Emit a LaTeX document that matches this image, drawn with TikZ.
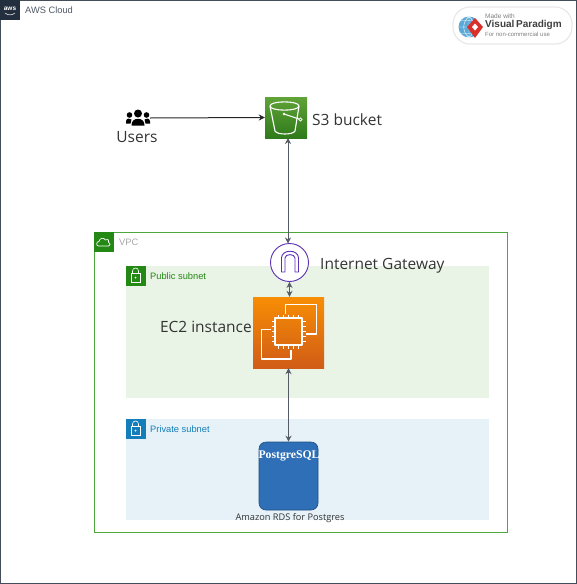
\documentclass[tikz,border=0pt]{standalone}
\usepackage{fontspec}
\setmainfont{Open Sans}
\newfontfamily\arialfont{Liberation Sans}
\newfontfamily\serifbold{Liberation Serif}
\usetikzlibrary{arrows.meta,calc,positioning}
\definecolor{awsdark}{HTML}{232F3E}
\definecolor{arrowgray}{HTML}{545B64}
\definecolor{vpcgreen}{HTML}{4DA83C}
\definecolor{subgreen}{HTML}{248814}
\definecolor{subblue}{HTML}{147EBA}
\definecolor{pubfill}{HTML}{E9F3E6}
\definecolor{privfill}{HTML}{E6F2F8}
\definecolor{igwpurple}{HTML}{5A30B5}
\definecolor{rdsblue}{HTML}{2E6FB7}
\definecolor{labeltext}{HTML}{333333}
\definecolor{buckettop}{HTML}{60A337}
\definecolor{bucketbot}{HTML}{2F7A1B}
\definecolor{ectop}{HTML}{F78E04}
\definecolor{ecbot}{HTML}{D05C17}
\definecolor{globeblue}{HTML}{5AA9D6}
\definecolor{markred}{HTML}{D9302A}

\begin{document}
\begin{tikzpicture}[
  x=1pt,
  y=-1pt,
  >=Stealth,
  link/.style={<->,line width=1pt,arrowgray,>={Stealth[length=6pt,width=6pt]}},
  biglabel/.style={font=\fontsize{15.5}{18}\selectfont,text=labeltext,inner sep=0pt,anchor=west},
  smalllabel/.style={font=\arialfont\fontsize{9.3}{11}\selectfont,inner sep=0pt,anchor=west},
  subnet/.style={draw=none,minimum width=363.5pt,inner sep=0pt},
  badge/.style={minimum size=20pt,inner sep=0pt},
  iconline/.style={white,line width=1.1pt,line join=round}
]
\useasboundingbox (0,0) rectangle (577,584);

% Cloud frame
\node[draw=awsdark!85,line width=0.8pt,minimum width=576pt,minimum height=583pt,inner sep=0pt] (cloud) at (288.5,292) {};
\node[fill=awsdark,badge] (awslogo) at (10,10) {};
\node[white,font=\arialfont\bfseries\fontsize{6.5}{7}\selectfont,inner sep=0pt] (awstext) at (10,8.5) {aws};
\draw[white,line width=0.5pt] (5,13) .. controls (8,15.5) and (12,15.5) .. (15,13);
\node[smalllabel,text=awsdark!80] (cloudlabel) at (25,10.5) {AWS Cloud};

% Watermark
\node[fill=white,draw=black!9,line width=1.2pt,rounded corners=17pt,minimum width=119pt,minimum height=37pt,inner sep=0pt] (markpill) at (512.5,25.5) {};
\fill[globeblue] (469,27) circle (10.5pt);
\draw[white,line width=0.4pt] (458.5,27) -- (479.5,27) (469,16.5) -- (469,37.5)
  (461,20.5) -- (477,20.5) (461,33.5) -- (477,33.5)
  (469,16.5) .. controls (462,22) and (462,32) .. (469,37.5)
  (469,16.5) .. controls (476,22) and (476,32) .. (469,37.5);
\fill[markred] (475,18) -- (483,27) -- (475,38) -- (467,27) -- cycle;
\fill[white] (475,23.5) -- (478,27) -- (475,30.5) -- (472,27) -- cycle;
\node[font=\arialfont\fontsize{6.5}{7}\selectfont,text=gray,inner sep=0pt,anchor=west] (markone) at (485,16) {Made with};
\node[font=\arialfont\bfseries\fontsize{10}{12}\selectfont,text=black!75,inner sep=0pt,anchor=west] (marktwo) at (485,25) {Visual\,Paradigm};
\node[font=\arialfont\fontsize{6}{7}\selectfont,text=gray,inner sep=0pt,anchor=west] (markthree) at (485,34.5) {For non-commercial use};

% VPC and subnets
\node[draw=vpcgreen,line width=0.8pt,minimum width=413pt,minimum height=300pt,inner sep=0pt] (vpc) at (300.5,382) {};
\node[fill=subgreen,badge] (vpcbadge) at (104,242) {};
\draw[white,line width=0.7pt,line join=round] (98.5,246) .. controls (96,246) and (96,241.5) .. (99,241.5)
  .. controls (99.5,238) and (104,237) .. (105.5,240) .. controls (108,238.5) and (110,241) .. (108.5,242)
  .. controls (111,243) and (110.5,246) .. (108.5,246) -- cycle;
\node[smalllabel,text=gray!70] (vpclabel) at (119,242) {VPC};

\node[subnet,fill=pubfill,minimum height=132pt] (pubnet) at (307.25,332) {};
\node[fill=subgreen,badge] (pubbadge) at (135.5,276) {};
\node[smalllabel,text=subgreen] (publabel) at (150,276) {Public subnet};

\node[subnet,fill=privfill,minimum height=101pt] (privnet) at (307.25,469.5) {};
\node[fill=subblue,badge] (privbadge) at (135.5,429) {};
\node[smalllabel,text=subblue] (privlabel) at (150,429) {Private subnet};

% Padlocks
\foreach \bx/\by in {135.5/276,135.5/429}{
  \draw[white,line width=0.6pt] (\bx-4.5,\by-3) rectangle (\bx+4.5,\by+6);
  \draw[white,line width=0.6pt] (\bx-3,\by-3) -- (\bx-3,\by-5) .. controls (\bx-3,\by-9) and (\bx+3,\by-9) .. (\bx+3,\by-5) -- (\bx+3,\by-3);
  \fill[white] (\bx,\by+1.5) circle (1pt);
}

% Users
\node[minimum width=24pt,minimum height=16pt,inner sep=0pt] (users) at (138,118) {};
\fill[black] (138,113.5) circle (4pt);
\fill[black] (131.5,125.5) .. controls (131,116.5) and (145,116.5) .. (144.5,125.5) -- cycle;
\foreach \sx in {-1,1}{
  \fill[black] (138+\sx*8.5,115) circle (2.8pt);
  \fill[black] (138+\sx*12,123.5) -- (138+\sx*12,121) .. controls (138+\sx*11.5,118) and (138+\sx*8,118) .. (138+\sx*6.5,119.5) -- (138+\sx*7.5,123.5) -- cycle;
}
\node[font=\fontsize{15.5}{18}\selectfont,text=labeltext,inner sep=0pt] (userslabel) at (137,137) {Users};

% S3 bucket
\node[minimum width=42pt,minimum height=41pt,inner sep=0pt,top color=buckettop,bottom color=bucketbot] (bucket) at (286,117.5) {};
\draw[iconline] (270,106) .. controls (270,100.5) and (299,100.5) .. (299,106) .. controls (299,111.5) and (270,111.5) .. (270,106);
\draw[iconline] (270,106) -- (275,131) .. controls (277,135) and (293,135) .. (295,131) -- (299,106);
\draw[iconline] (284,114) -- (299,119);
\fill[white] (284,114) circle (1.4pt);
\draw[white,line width=0.7pt] (300.5,119.5) circle (1.7pt);
\node[biglabel] (bucketlabel) at (312,120) {S3 bucket};

% Internet gateway
\node[circle,draw=igwpurple,line width=0.9pt,fill=white,minimum size=38pt,inner sep=0pt] (igw) at (289.5,262.5) {};
\draw[igwpurple,line width=0.9pt,line join=round] (281.5,272) -- (281.5,258) .. controls (281.5,249) and (298.5,249) .. (298.5,258) -- (298.5,272) -- (295,272) -- (295,258) .. controls (295,253.5) and (285,253.5) .. (285,258) -- (285,272) -- cycle;
\node[biglabel] (igwlabel) at (320,266) {Internet Gateway};

% EC2 instance
\node[minimum size=71pt,inner sep=0pt,top color=ectop,bottom color=ecbot] (ecinst) at (288.5,332.5) {};
\draw[iconline] (285.7,314) -- (285.7,304.5) -- (316.5,304.5) -- (316.5,334) -- (306,334);
\draw[iconline] (271,329.5) -- (261.5,329.5) -- (261.5,359) -- (291,359) -- (291,350);
\draw[iconline] (275,318) rectangle (302,345);
\foreach \tick in {0,1,2,3,4}{
  \draw[white,line width=0.8pt] (278.5+\tick*5,318) -- ++(0,-3.5);
  \draw[white,line width=0.8pt] (278.5+\tick*5,345) -- ++(0,3.5);
  \draw[white,line width=0.8pt] (275,321.5+\tick*5) -- ++(-3.5,0);
  \draw[white,line width=0.8pt] (302,321.5+\tick*5) -- ++(3.5,0);
}
\node[biglabel,anchor=east] (ecinstlabel) at (252,327) {EC2 instance};

% RDS
\node[fill=rdsblue,draw=rdsblue!70!black,line width=0.6pt,rounded corners=7pt,minimum width=59pt,minimum height=68pt,inner sep=0pt] (rds) at (288.5,476) {};
\node[font=\serifbold\bfseries\fontsize{11.7}{14}\selectfont,text=white,inner sep=0pt] (rdsname) at (289,456) {PostgreSQL};
\node[font=\fontsize{9.2}{10}\selectfont,text=labeltext,inner sep=0pt] (rdslabel) at (290,518) {Amazon RDS for Postgres};

% Connectors
\coordinate (bucketfoot) at (288,138);
\coordinate (igwhead) at (288,243.5);
\draw[->,line width=1pt,black!85,>={Stealth[length=6pt,width=6pt]}] (users.east) -- (bucket.west);
\draw[link] (bucketfoot) -- (igwhead);
\draw[link] (igw.south) -- (ecinst.north -| igw.south);
\draw[link] (ecinst.south) -- (rds.north);
\end{tikzpicture}
\end{document}
